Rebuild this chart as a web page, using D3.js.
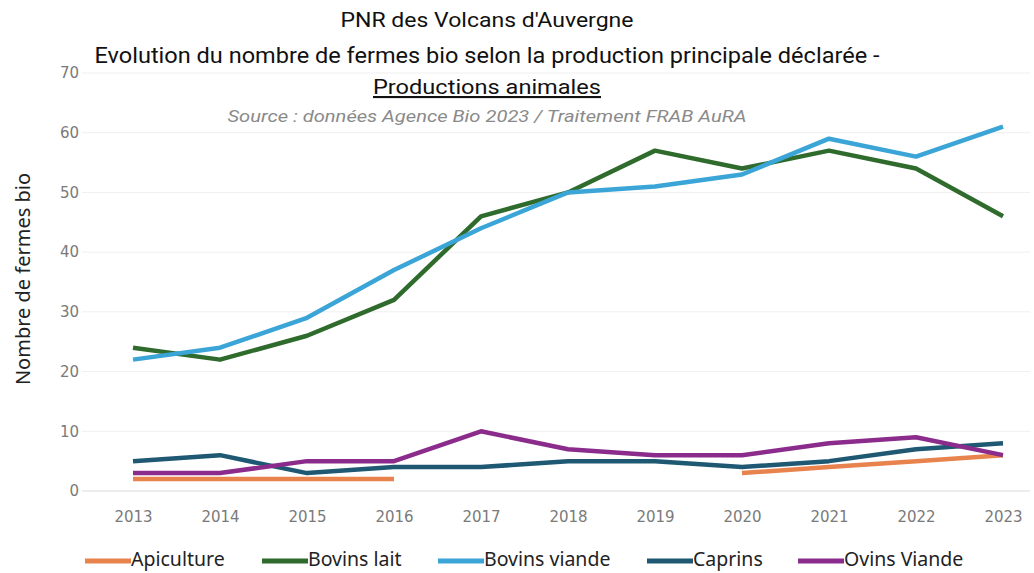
<!DOCTYPE html>
<html><head><meta charset="utf-8">
<script src="https://cdn.jsdelivr.net/npm/d3@7"></script>
<style>body{margin:0;background:#fff}svg{display:block}</style>
</head><body>
<svg id="c" width="1034" height="573"></svg>
<script>
const years = [2013,2014,2015,2016,2017,2018,2019,2020,2021,2022,2023];
const apiculture   = [2,2,2,2,null,null,null,3,4,5,6];
const bovinsLait   = [24,22,26,32,46,50,57,54,57,54,46];
const bovinsViande = [22,24,29,37,44,50,51,53,59,56,61];
const caprins      = [5,6,3,4,4,5,5,4,5,7,8];
const ovinsViande  = [3,3,5,5,10,7,6,6,8,9,6];
const yTicks = [0,10,20,30,40,50,60,70];
const seriesNames = ["Apiculture","Bovins lait","Bovins viande","Caprins","Ovins Viande"];
const seriesColors = ["#E8834E","#2F6B2C","#3AA5D6","#1E5872","#8B2C8C"];
const seriesData = [apiculture,bovinsLait,bovinsViande,caprins,ovinsViande];

const svg = d3.select("#c");
const x = d3.scalePoint().domain(years).range([133,1003]);
const y = d3.scaleLinear().domain([0,70]).range([491,73]);

// gridlines
svg.append("g").selectAll("line").data(yTicks).join("line")
  .attr("x1",82).attr("x2",1030)
  .attr("y1",d=>y(d)).attr("y2",d=>y(d))
  .attr("stroke",d=>d===0?"#d9d9d9":"#efefef").attr("stroke-width",1);

// y axis
const ya = svg.append("g").attr("transform","translate(80,0)")
  .call(d3.axisLeft(y).tickValues(yTicks).tickSize(0).tickPadding(0));
ya.select(".domain").remove();
ya.selectAll("text").attr("fill","#7a7a7a").attr("font-family","DejaVu Sans, sans-serif").attr("font-size",15).attr("dx",-1);

// x axis
const xa = svg.append("g").attr("transform","translate(0,491)")
  .call(d3.axisBottom(x).tickSize(0).tickPadding(20));
xa.select(".domain").remove();
xa.selectAll("text").attr("fill","#7a7a7a").attr("font-family","DejaVu Sans, sans-serif").attr("font-size",15);

// lines
const line = d3.line().defined(d=>d.v!=null).x(d=>x(d.year)).y(d=>y(d.v));
seriesData.forEach((arr,i)=>{
  svg.append("path")
    .datum(years.map((yr,j)=>({year:yr,v:arr[j]})))
    .attr("fill","none").attr("stroke",seriesColors[i]).attr("stroke-width",4.5)
    .attr("stroke-linejoin","round").attr("d",line);
});

// titles
const tf = "Roboto, 'Noto Sans', sans-serif";
function title(txt, yy, size, len, opts){
  const t = svg.append("text").attr("x",487).attr("y",yy).attr("text-anchor","middle")
    .attr("font-family",tf).attr("font-size",size).attr("fill",opts.fill||"#111")
    .attr("textLength",len).attr("lengthAdjust","spacingAndGlyphs").text(txt);
  if(opts.italic) t.attr("font-style","italic");
  if(opts.underline) t.attr("text-decoration","underline");
}
title("PNR des Volcans d'Auvergne",27,21,293,{});
title("Evolution du nombre de fermes bio selon la production principale déclarée -",63,22,785,{});
title("Productions animales",94,21,228,{underline:true});
title("Source : données Agence Bio 2023 / Traitement FRAB AuRA",122,16,519,{italic:true,fill:"#8a8a8a"});

// y title
svg.append("text").attr("transform","translate(30,279) rotate(-90)").attr("text-anchor","middle")
  .attr("font-family","'Noto Sans', sans-serif").attr("font-size",20).attr("fill","#222").text("Nombre de fermes bio");

// legend
const legX = [85,262,438,647,798];
const lg = svg.append("g");
seriesNames.forEach((n,i)=>{
  lg.append("line").attr("x1",legX[i]).attr("x2",legX[i]+46).attr("y1",561).attr("y2",561)
    .attr("stroke",seriesColors[i]).attr("stroke-width",5);
  lg.append("text").attr("x",legX[i]+46).attr("y",566).attr("font-family","'Noto Sans', sans-serif")
    .attr("font-size",19.5).attr("fill","#222").text(n);
});
</script>
</body></html>
